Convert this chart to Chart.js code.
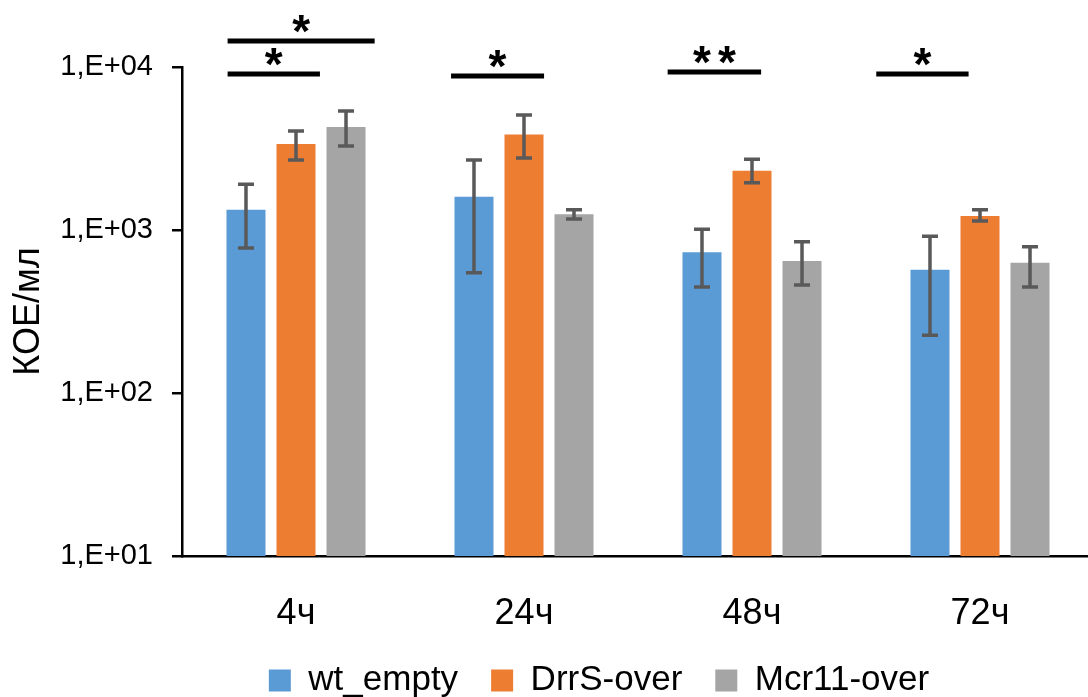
<!DOCTYPE html>
<html>
<head>
<meta charset="utf-8">
<script src="https://cdn.jsdelivr.net/npm/chart.js@4"></script>
<style>
  body { margin: 0; background: #fff; }
  #wrap { width: 1088px; height: 697px; overflow: hidden; position: relative; }
</style>
</head>
<body>
<div id="wrap"><canvas id="myChart" width="1100" height="708"></canvas></div>
<script>
// Categories and tick labels
const categories = ["4ч", "24ч", "48ч", "72ч"];
const yTickValues = [10, 100, 1000, 10000];
const yTickLabels = ["1,E+01", "1,E+02", "1,E+03", "1,E+04"];

// Series values (КОЕ/мл)
const seriesNames = ["wt_empty", "DrrS-over", "Mcr11-over"];
const wtEmpty = [1330, 1600, 730, 570];
const drrsOver = [3370, 3860, 2310, 1220];
const mcr11Over = [4290, 1250, 645, 630];

// Error bar ends (upper / lower)
const wtEmptyHigh = [1910, 2690, 1010, 914];
const wtEmptyLow = [776, 547, 447, 226];
const drrsOverHigh = [4050, 5080, 2720, 1330];
const drrsOverLow = [2690, 2770, 1950, 1136];
const mcr11OverHigh = [5370, 1330, 848, 790];
const mcr11OverLow = [3275, 1167, 460, 447];

// Significance marks: category, span (in category widths from centre), level, label
const sigMarks = [
  { cat: 0, from: -0.30, to: 0.105, level: 9060, label: "*" },
  { cat: 0, from: -0.30, to: 0.345, level: 14430, label: "*" },
  { cat: 1, from: -0.32, to: 0.088, level: 8810, label: "*" },
  { cat: 2, from: -0.37, to: 0.04, level: 9320, label: "**" },
  { cat: 3, from: -0.455, to: -0.05, level: 9060, label: "*" },
];

const colors = ["#5b9bd5", "#ed7d31", "#a5a5a5"];
const errHigh = [wtEmptyHigh, drrsOverHigh, mcr11OverHigh];
const errLow = [wtEmptyLow, drrsOverLow, mcr11OverLow];
const fontFamily = "'Liberation Sans', Arial, sans-serif";

// Error bars drawn from the y scale
const errorBars = {
  id: "errorBars",
  afterDatasetsDraw(chart) {
    const ctx = chart.ctx;
    const y = chart.scales.y;
    ctx.save();
    ctx.strokeStyle = "#595959";
    ctx.lineWidth = 3.5;
    chart.data.datasets.forEach((ds, i) => {
      chart.getDatasetMeta(i).data.forEach((bar, j) => {
        const top = y.getPixelForValue(errHigh[i][j]);
        const bot = y.getPixelForValue(errLow[i][j]);
        ctx.beginPath();
        ctx.moveTo(bar.x, top);
        ctx.lineTo(bar.x, bot);
        ctx.moveTo(bar.x - 8, top);
        ctx.lineTo(bar.x + 8, top);
        ctx.moveTo(bar.x - 8, bot);
        ctx.lineTo(bar.x + 8, bot);
        ctx.stroke();
      });
    });
    ctx.restore();
  },
};

// Significance lines and asterisks above the groups
const sigPlugin = {
  id: "sigPlugin",
  afterDraw(chart) {
    const ctx = chart.ctx;
    const x = chart.scales.x;
    const y = chart.scales.y;
    const catWidth = x.width / categories.length;
    ctx.save();
    ctx.strokeStyle = "#000";
    ctx.fillStyle = "#000";
    ctx.lineWidth = 5;
    ctx.font = "bold 46px " + fontFamily;
    ctx.textAlign = "left";
    ctx.textBaseline = "alphabetic";
    sigMarks.forEach((m) => {
      const c = x.getPixelForTick(m.cat);
      const x0 = c + m.from * catWidth;
      const x1 = c + m.to * catWidth;
      const ly = y.getPixelForValue(m.level);
      ctx.beginPath();
      ctx.moveTo(x0, ly);
      ctx.lineTo(x1, ly);
      ctx.stroke();
      // place the glyphs just above the line
      const star = ctx.measureText("*");
      const gap = 7;
      const glyphW = star.actualBoundingBoxRight + star.actualBoundingBoxLeft;
      const n = m.label.length;
      const total = n * glyphW + (n - 1) * gap;
      const baseY = ly - 8 - star.actualBoundingBoxDescent;
      for (let k = 0; k < n; k++) {
        const gx = (x0 + x1) / 2 - total / 2 + k * (glyphW + gap) + star.actualBoundingBoxLeft;
        ctx.fillText("*", gx, baseY);
      }
    });
    ctx.restore();
  },
};

// Centre the legend under the visible part of the chart
const legendShift = {
  id: "legendShift",
  afterLayout(chart) {
    chart.legend.left += 104;
  },
};

const ctx = document.getElementById("myChart");

const chartData = {
  labels: categories,
  datasets: [
    { label: seriesNames[0], data: wtEmpty, backgroundColor: colors[0] },
    { label: seriesNames[1], data: drrsOver, backgroundColor: colors[1] },
    { label: seriesNames[2], data: mcr11Over, backgroundColor: colors[2] },
  ],
};

const options = {
  responsive: false,
  animation: false,
  layout: { padding: { top: 67, right: 6, left: 0, bottom: 0 } },
  datasets: {
    bar: { categoryPercentage: 0.658, barPercentage: 0.78, borderWidth: 0 },
  },
  plugins: {
    tooltip: { enabled: false },
    legend: {
      position: "bottom",
      labels: {
        boxWidth: 22,
        boxHeight: 22,
        padding: 33,
        color: "#000",
        font: { family: fontFamily, size: 35 },
      },
    },
  },
  scales: {
    x: {
      grid: { display: false, drawTicks: false },
      border: { display: true, color: "#000", width: 2.5 },
      ticks: {
        color: "#000",
        padding: 36,
        font: { family: fontFamily, size: 36 },
      },
      afterFit: (scale) => {
        scale.height = 74;
      },
    },
    y: {
      type: "logarithmic",
      min: 10,
      max: 10000,
      afterBuildTicks: (scale) => {
        scale.ticks = yTickValues.map((v) => ({ value: v }));
      },
      afterFit: (scale) => {
        scale.width = 182;
      },
      grid: {
        drawOnChartArea: false,
        drawTicks: true,
        tickLength: 10,
        color: "#000",
        lineWidth: 2.5,
      },
      border: { display: true, color: "#000", width: 2.5 },
      ticks: {
        color: "#000",
        padding: 19,
        font: { family: fontFamily, size: 29 },
        callback: function (value, index) {
          return yTickLabels[index];
        },
      },
      title: {
        display: true,
        text: "КОЕ/мл",
        color: "#000",
        padding: { top: 7, bottom: 0 },
        font: { family: fontFamily, size: 36 },
      },
    },
  },
};

const barChart = new Chart(ctx, {
  type: "bar",
  data: chartData,
  options: options,
  plugins: [errorBars, sigPlugin, legendShift],
});
</script>
</body>
</html>
